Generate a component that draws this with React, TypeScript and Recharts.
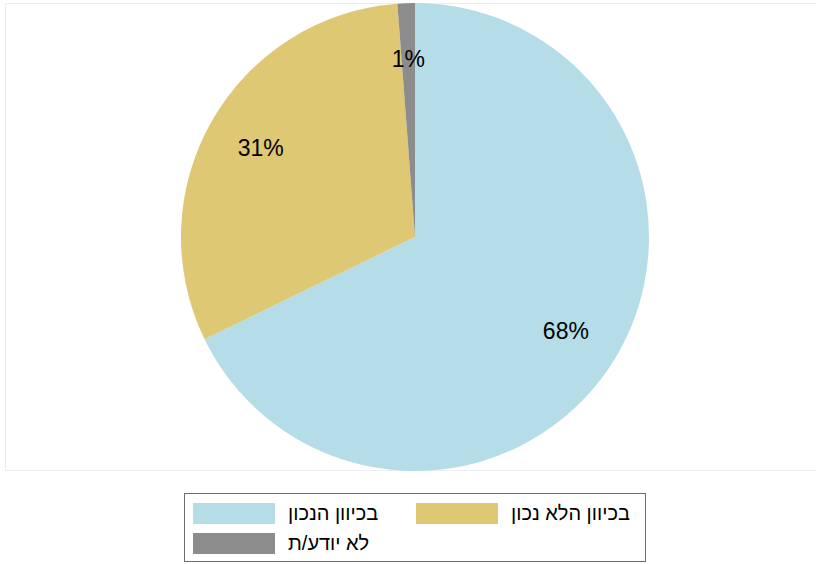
import { Legend, Pie, PieChart } from "recharts";

const categories = ["בכיוון הנכון", "בכיוון הלא נכון", "לא יודע/ת"];
const shares = [67.8, 31.0, 1.2];
const colors = ["#b5dde8", "#dec874", "#8c8c8c"];

const data = categories.map((name, i) => ({ name, value: shares[i], fill: colors[i] }));

const RADIAN = Math.PI / 180;

function renderLabel(props: any) {
  const { cx, cy, midAngle, value } = props;
  const r = 178;
  const x = cx + r * Math.cos(-midAngle * RADIAN);
  const y = cy + r * Math.sin(-midAngle * RADIAN);
  return (
    <text
      x={x}
      y={y}
      fill="#000"
      fontSize={23}
      fontFamily="Liberation Sans, Arial, sans-serif"
      textAnchor="middle"
      dominantBaseline="central"
    >
      {Math.round(value)}%
    </text>
  );
}

function LegendBox(props: any) {
  const items = props.payload || [];
  return (
    <div
      style={{
        width: 460,
        height: 67,
        border: "1px solid #6e6e6e",
        position: "relative",
        fontFamily: "Liberation Sans, Arial, sans-serif",
        fontSize: 20,
        color: "#000",
      }}
    >
      {items.map((item: any) => {
        const i = categories.indexOf(item.value);
        return (
          <div
            key={item.value}
            style={{
              position: "absolute",
              left: i === 1 ? 231 : 8,
              top: i === 2 ? 38 : 8,
              display: "flex",
              alignItems: "center",
              height: 22,
            }}
          >
            <span style={{ display: "inline-block", width: 82, height: 21, background: item.color }} />
            <span style={{ marginLeft: 13, direction: "rtl", whiteSpace: "nowrap" }}>{item.value}</span>
          </div>
        );
      })}
    </div>
  );
}

export default function App() {
  return (
    <div style={{ position: "absolute", left: 0, top: 0, width: 816, height: 564, background: "#fff" }}>
      <div
        style={{
          position: "absolute",
          left: 5,
          top: 3,
          width: 820,
          height: 466,
          border: "1px solid #e9efef",
        }}
      />
      <PieChart width={816} height={564} margin={{ top: 0, right: 0, bottom: 0, left: 0 }}>
        <Pie
          data={data}
          dataKey="value"
          nameKey="name"
          cx={415}
          cy={237}
          outerRadius={234}
          startAngle={90}
          endAngle={-270}
          stroke="none"
          label={renderLabel}
          labelLine={false}
          isAnimationActive={false}
        />
        <Legend
          content={<LegendBox />}
          wrapperStyle={{ position: "absolute", left: 184, top: 493, width: 462, height: 69 }}
        />
      </PieChart>
    </div>
  );
}
